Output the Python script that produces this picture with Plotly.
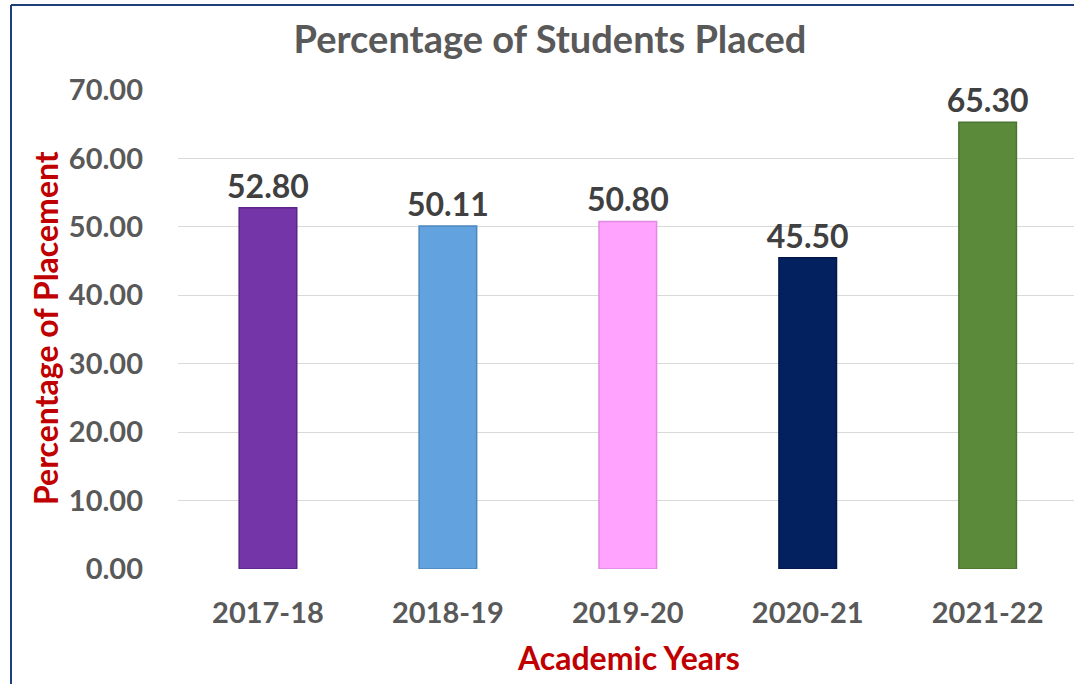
import plotly.graph_objects as go

years = ["2017-18", "2018-19", "2019-20", "2020-21", "2021-22"]
placement_pct = [52.80, 50.11, 50.80, 45.50, 65.30]
bar_colors = ["#7335A8", "#62A3DF", "#FFA3FF", "#03215F", "#5B8B3A"]
edge_colors = ["#5A2585", "#4D87BD", "#E08AE0", "#021848", "#4A7530"]
y_ticks = [0, 10, 20, 30, 40, 50, 60, 70]

FONT = "Lato"
W, H = 1074, 684
L, T = 178, 90
B = H - 569
R = 0
pw, ph = W - L - R, H - T - B

def px_x(p):
    return (p - L) / pw

def px_y(p):
    return (H - B - p) / ph

fig = go.Figure()
fig.add_trace(go.Bar(
    x=years, y=placement_pct,
    width=0.32,
    marker=dict(color=bar_colors, line=dict(color=edge_colors, width=1.5)),
    texttemplate="%{y:.2f}", textposition="outside", constraintext="none",
    textfont=dict(family=FONT, size=32, color="#404040", weight="bold"),
    cliponaxis=False,
))

fig.update_layout(
    width=W, height=H,
    margin=dict(l=L, r=R, t=T, b=B),
    paper_bgcolor="white", plot_bgcolor="white",
    showlegend=False,
    title=dict(text="<b>Percentage of Students Placed</b>", x=550 / W, xanchor="center",
               y=1 - 40 / H, yanchor="middle",
               font=dict(family=FONT, size=38, color="#595959")),
    xaxis=dict(range=[-0.5, 4.48], showgrid=False, zeroline=False, showline=False,
               ticks="", ticklabelstandoff=24,
               tickfont=dict(family=FONT, size=29, color="#595959", weight="bold")),
    yaxis=dict(range=[0, 70], tickvals=y_ticks, tickformat=".2f",
               showgrid=True, gridcolor="#D9D9D9", gridwidth=1, zeroline=False,
               ticks="", ticklabelstandoff=34,
               tickfont=dict(family=FONT, size=29, color="#595959", weight="bold")),
    bargap=0.68,
)

fig.add_annotation(text="<b>Academic Years</b>", xref="paper", yref="paper",
                   x=px_x(628), y=px_y(657), xanchor="center", yanchor="middle",
                   showarrow=False, font=dict(family=FONT, size=32, color="#C00000"))
fig.add_annotation(text="<b>Percentage of Placement</b>", xref="paper", yref="paper",
                   x=px_x(45), y=px_y(328), xanchor="center", yanchor="middle", textangle=-90,
                   showarrow=False, font=dict(family=FONT, size=32, color="#C00000"))

border = "#1F3F7A"
fig.add_shape(type="line", xref="paper", yref="paper",
              x0=px_x(11), x1=px_x(1090), y0=px_y(5), y1=px_y(5),
              line=dict(color=border, width=2))
fig.add_shape(type="line", xref="paper", yref="paper",
              x0=px_x(11), x1=px_x(11), y0=px_y(5), y1=px_y(700),
              line=dict(color=border, width=2))

fig.write_html("out.html", config={"displayModeBar": False},
               post_script="document.body.style.margin='0';")
